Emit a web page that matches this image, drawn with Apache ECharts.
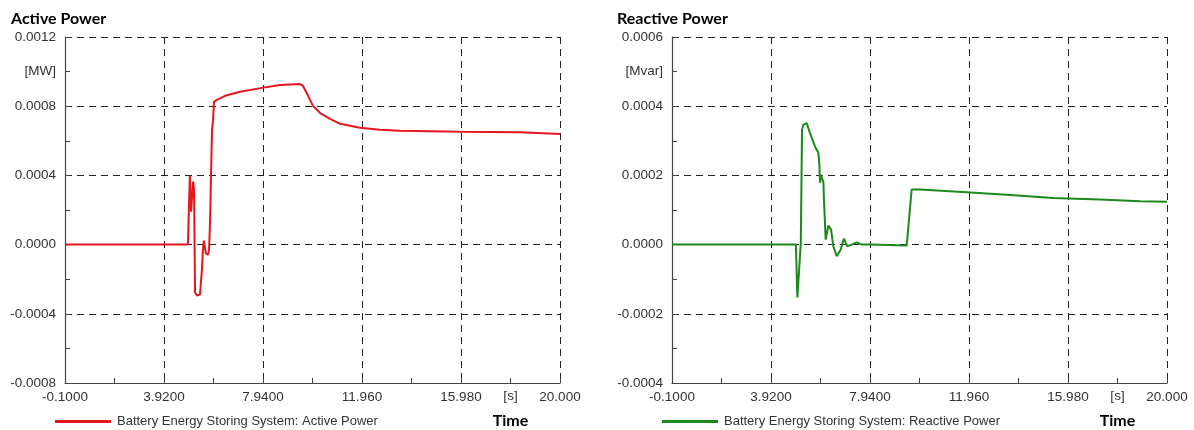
<!DOCTYPE html>
<html>
<head>
<meta charset="utf-8">
<script src="https://cdn.jsdelivr.net/npm/echarts@6/dist/echarts.min.js"></script>
<style>
  html, body { margin: 0; padding: 0; background: #fff; }
  #chart { width: 1194px; height: 430px; }
</style>
</head>
<body>
<div id="chart"></div>
<script type="text/javascript">
// time axis starts at -0.1 s, ticks every 4.02 s
var tStart = -0.1;
var xTickLabels = ['-0.1000', '3.9200', '7.9400', '11.960', '15.980', '20.000'];

// Active power [MW]
var activeT = [-0.1, 4.89, 4.97, 5.02, 5.10, 5.14, 5.18, 5.26, 5.38, 5.46, 5.50, 5.54, 5.62, 5.71, 5.75, 5.79,
  5.87, 5.91, 5.95, 6.07, 6.40, 7.01, 7.90, 8.63, 9.44, 9.56, 9.77, 9.97, 10.25, 10.66, 11.07, 11.88,
  12.69, 13.50, 15.94, 18.37, 20.0];
var activeV = [0, 0, 0.000398, 0.00019, 0.000364, 0.00032, -0.000277, -0.000294, -0.000289, -0.000144, -0.00003,
  0.000023, -0.000052, -0.000058, -0.00003, 0.000133, 0.000664, 0.000716, 0.000825, 0.000837, 0.00086,
  0.000883, 0.000906, 0.000923, 0.000929, 0.000918, 0.00086, 0.000802, 0.000762, 0.000727, 0.000698,
  0.000675, 0.000664, 0.000658, 0.000652, 0.00065, 0.00064];

// Reactive power [Mvar]
var reactiveT = [-0.1, 4.93, 4.99, 5.07, 5.13, 5.18, 5.23, 5.37, 5.50, 5.71, 5.84, 5.88, 5.91, 5.95, 6.00,
  6.05, 6.07, 6.14, 6.25, 6.36, 6.45, 6.59, 6.75, 6.88, 7.02, 7.20, 7.40, 7.60, 7.94, 9.43, 9.63, 9.97,
  11.86, 13.49, 15.37, 17.28, 18.90, 20.0];
var reactiveV = [0, 0, -0.000153, -0.0000635, 0.0000058, 0.000332, 0.000346, 0.000351, 0.000323, 0.000283,
  0.000266, 0.000237, 0.000179, 0.000202, 0.000202, 0.000179, 0.00013, 0.0000144, 0.0000548, 0.0000433,
  -0.0000049, -0.0000338, -0.0000144, 0.0000173, -0.0000049, 0, 0.0000066, 0, 0, -0.0000029, 0.000159,
  0.000159, 0.000151, 0.000144, 0.000135, 0.00013, 0.000125, 0.000124];

var panels = [
  { title: 'Active Power', unit: '[MW]', name: 'Battery Energy Storing System: Active Power',
    color: '#e3171c', t: activeT, v: activeV, yMin: -0.0008, yMax: 0.0012, yStep: 0.0004 },
  { title: 'Reactive Power', unit: '[Mvar]', name: 'Battery Energy Storing System: Reactive Power',
    color: '#1b8a1b', t: reactiveT, v: reactiveV, yMin: -0.0004, yMax: 0.0006, yStep: 0.0002 }
];

var gridPos = [{ left: 65, right: 634 }, { left: 672, right: 27 }];
var legendLeft = [55, 662];
var titleLeft = [11, 617];

var labelFont = 'Liberation Sans, Arial, sans-serif';
var boldFont = 'Lato, Open Sans, sans-serif';
var dashed = { color: '#222', width: 1, type: [7, 5] };
var axisColor = '#444';

var option = {
  backgroundColor: '#fff',
  animation: false,
  title: [], grid: [], xAxis: [], yAxis: [], legend: [], series: []
};

panels.forEach(function (p, i) {
  option.title.push({
    text: p.title, left: titleLeft[i], top: 11, padding: 0,
    textStyle: { fontFamily: boldFont, fontWeight: 'bold', fontSize: 16, color: '#000' }
  });
  option.grid.push({ left: gridPos[i].left, right: gridPos[i].right, top: 37, bottom: 47 });

  // main x axis: dashed grid + labels
  option.xAxis.push({
    type: 'value', gridIndex: i, min: 0, max: 20.1, interval: 4.02, position: 'bottom',
    axisLine: { show: true, onZero: false, lineStyle: { color: axisColor, width: 1.2 } },
    axisTick: { show: false },
    axisLabel: {
      margin: 7, color: '#333', fontSize: 13.5, fontFamily: labelFont,
      formatter: function (v) { return xTickLabels[Math.round(v / 4.02)] || ''; }
    },
    splitLine: { show: true, lineStyle: dashed }
  });
  // half-step ticks + unit label
  option.xAxis.push({
    type: 'value', gridIndex: i, min: 0, max: 20.1, interval: 2.01, position: 'bottom',
    axisLine: { show: false, onZero: false },
    axisTick: { show: true, inside: true, length: 5, lineStyle: { color: axisColor } },
    axisLabel: {
      margin: 7, color: '#333', fontSize: 13.5, fontFamily: labelFont,
      formatter: function (v) {
        return Math.round(v / 2.01) === 9 ? '{u|[s]}\n{t|Time}' : '';
      },
      rich: {
        u: { fontSize: 13.5, fontFamily: labelFont, color: '#333', lineHeight: 13 },
        t: { fontSize: 16, fontFamily: boldFont, fontWeight: 'bold', color: '#000', lineHeight: 36 }
      }
    },
    splitLine: { show: false }
  });

  option.yAxis.push({
    type: 'value', gridIndex: i, min: p.yMin, max: p.yMax, interval: p.yStep, position: 'left',
    axisLine: { show: true, onZero: false, lineStyle: { color: axisColor, width: 1.2 } },
    axisTick: { show: false },
    axisLabel: {
      margin: 9, color: '#333', fontSize: 13.5, fontFamily: labelFont,
      formatter: function (v) { return v.toFixed(4); }
    },
    splitLine: { show: true, lineStyle: dashed }
  });
  option.yAxis.push({
    type: 'value', gridIndex: i, min: p.yMin, max: p.yMax, interval: p.yStep / 2, position: 'left',
    axisLine: { show: false, onZero: false },
    axisTick: { show: true, inside: true, length: 5, lineStyle: { color: axisColor } },
    axisLabel: {
      margin: 9, color: '#333', fontSize: 13.5, fontFamily: labelFont,
      formatter: function (v) {
        return Math.abs(v - (p.yMax - p.yStep / 2)) < p.yStep / 10 ? p.unit : '';
      }
    },
    splitLine: { show: false }
  });

  option.legend.push({
    left: legendLeft[i], top: 415, padding: 0, itemWidth: 56, itemHeight: 3, itemGap: 8,
    icon: 'rect',
    data: [p.name],
    textStyle: { fontSize: 13, fontFamily: labelFont, color: '#333', padding: [0, 0, 0, 1] }
  });

  option.series.push({
    name: p.name, type: 'line', xAxisIndex: i * 2, yAxisIndex: i * 2,
    symbol: 'none', color: p.color,
    lineStyle: { width: 2, color: p.color },
    data: p.t.map(function (t, k) { return [t - tStart, p.v[k]]; })
  });
});

var myChart = echarts.init(document.getElementById('chart'));
myChart.setOption(option);
</script>
</body>
</html>
